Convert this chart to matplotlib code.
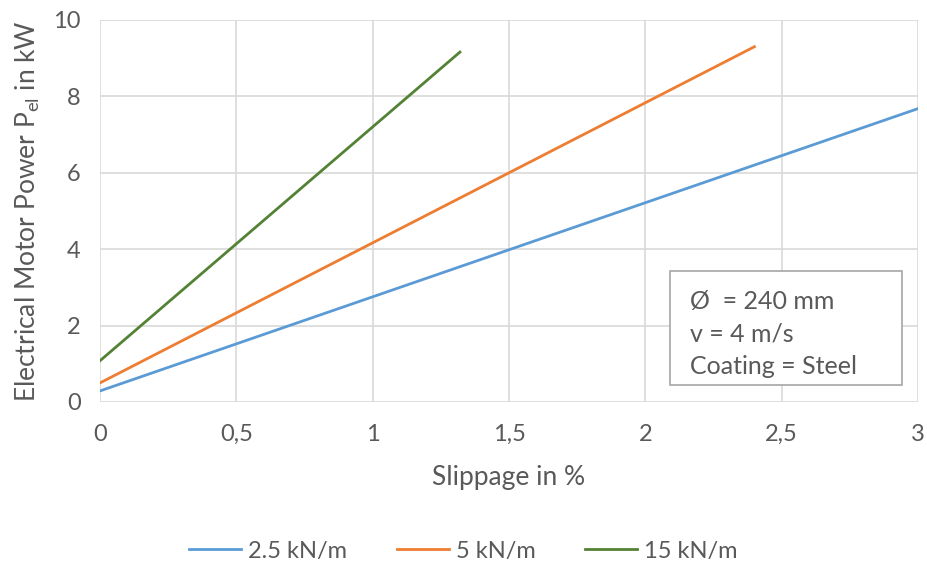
import matplotlib.pyplot as plt
from matplotlib.patches import Rectangle

slip = [0, 3.0]
slip_5 = [0, 2.4]
slip_15 = [0, 1.32]
p_25 = [0.29, 7.68]
p_5 = [0.5, 9.3]
p_15 = [1.08, 9.16]
labels = ["2.5 kN/m", "5 kN/m", "15 kN/m"]

plt.rcParams['font.family'] = ['Lato', 'DejaVu Sans']
txt = "#595959"

fig = plt.figure(figsize=(9.27, 5.66), dpi=100)
ax = fig.add_axes([100/927, 164/566, 818/927, 382/566])

ax.plot(slip, p_25, color="#5b9bd5", lw=2, label=labels[0])
ax.plot(slip_5, p_5, color="#ed7d31", lw=2, label=labels[1])
ax.plot(slip_15, p_15, color="#548235", lw=2, label=labels[2])

ax.set_xlim(0, 3)
ax.set_ylim(0, 10)
ax.set_xticks([0, 0.5, 1, 1.5, 2, 2.5, 3])
ax.set_xticklabels(["0", "0,5", "1", "1,5", "2", "2,5", "3"])
ax.set_yticks([0, 2, 4, 6, 8, 10])
ax.grid(True, color="#d9d9d9", lw=1.2)
ax.set_axisbelow(True)
for s in ax.spines.values():
    s.set_visible(False)
ax.tick_params(axis="x", length=0, labelsize=17, colors=txt, pad=16)
ax.tick_params(axis="y", length=0, labelsize=17, colors=txt, pad=14)

ax.set_xlabel("Slippage in %", fontsize=19, color=txt, labelpad=14)
ax.set_ylabel("Electrical Motor Power P$_{\\mathregular{el}}$ in kW", fontsize=19, color=txt, labelpad=8)

# parameter box
ax.add_patch(Rectangle((0.697, 0.0445), 0.283, 0.2985, transform=ax.transAxes,
                       fc="white", ec="#a6a6a6", lw=1.2, zorder=5))
ax.text(0.721, 0.178, "Ø  = 240 mm\nv = 4 m/s\nCoating = Steel", transform=ax.transAxes,
        fontsize=18, color=txt, linespacing=1.5, va="center", ha="left", zorder=6)

fig.legend(loc="lower center", bbox_to_anchor=(0.5, -0.03), ncol=3, frameon=False,
           fontsize=17, labelcolor=txt, handlelength=2.2, columnspacing=2.1, handletextpad=0.3)

fig.savefig("out.png", dpi=100)
